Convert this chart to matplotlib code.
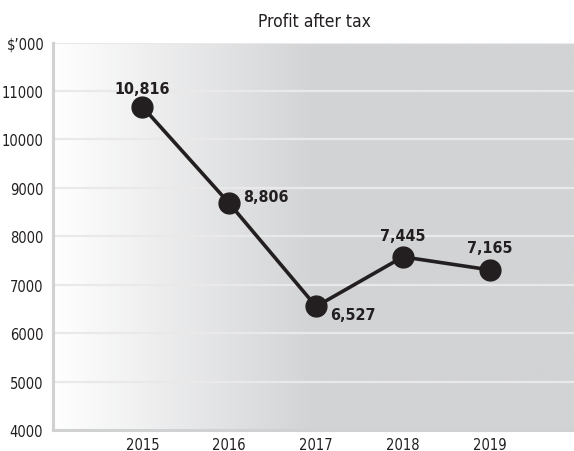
import matplotlib
matplotlib.use("Agg")
import matplotlib.pyplot as plt
import numpy as np
from matplotlib.colors import LinearSegmentedColormap

years = ["2015", "2016", "2017", "2018", "2019"]
plotted = [10674, 8678, 6550, 7574, 7306]
labels = ["10,816", "8,806", "6,527", "7,445", "7,165"]
yticks = [4000, 5000, 6000, 7000, 8000, 9000, 10000, 11000]

plt.rcParams['font.family'] = ["DejaVu Sans"]
plt.rcParams['font.stretch'] = "condensed"

fig = plt.figure(figsize=(5.74, 4.52), dpi=100)
ax = fig.add_axes([53/574, 21/452, 1 - 53/574, (431-43.5)/452])

x = np.arange(len(years))
ax.set_xlim(-1.03, 4.97)
ax.set_ylim(4000, 12000)

# gradient background
cmap = LinearSegmentedColormap.from_list("g", [(0, "#ffffff"), (0.505, "#d2d3d5"), (1, "#d2d3d5")])
grad = np.linspace(0, 1, 256).reshape(1, -1)
ax.imshow(grad, cmap=cmap, aspect="auto", extent=[0, 1, 0, 1],
          transform=ax.transAxes, zorder=0)

for yv in yticks[1:] + [12000]:
    ax.axhline(yv, color="#e9e9ea", lw=1.6, zorder=1)

ax.plot(x, plotted, color="#231f20", lw=2.6, marker="o", ms=15,
        markerfacecolor="#231f20", markeredgecolor="#231f20", zorder=3)

offsets = [(0, 8, "center", "bottom"), (10, 5, "left", "center"),
           (10, -6, "left", "center"), (0, 10, "center", "bottom"),
           (0, 11, "center", "bottom")]
for i, (lab, (dx, dy, ha, va)) in enumerate(zip(labels, offsets)):
    ax.annotate(lab, (x[i], plotted[i]), xytext=(dx, dy), textcoords="offset points",
                ha=ha, va=va, fontsize=11.5, fontweight="bold", color="#231f20", zorder=4)

ax.set_xticks(x)
ax.set_xticklabels(years)
ax.set_yticks(yticks)
ax.set_yticklabels([str(v) for v in yticks])
ax.tick_params(axis="both", length=0, labelsize=10.5, colors="#231f20")
ax.tick_params(axis="x", pad=5)
ax.tick_params(axis="y", pad=7)

for s in ["top", "right"]:
    ax.spines[s].set_visible(False)
for s in ["left", "bottom"]:
    ax.spines[s].set_color("#d0d1d3")
    ax.spines[s].set_linewidth(2.2)
    ax.spines[s].set_zorder(2)

fig.text(26/574, 1 - 45/452, "$\u2019000", ha="center", va="center", fontsize=10.5, color="#231f20")
fig.text(314/574, 1 - 22/452, "Profit after tax", ha="center", va="center", fontsize=12.5, color="#231f20")

fig.savefig("out.png", dpi=100)
